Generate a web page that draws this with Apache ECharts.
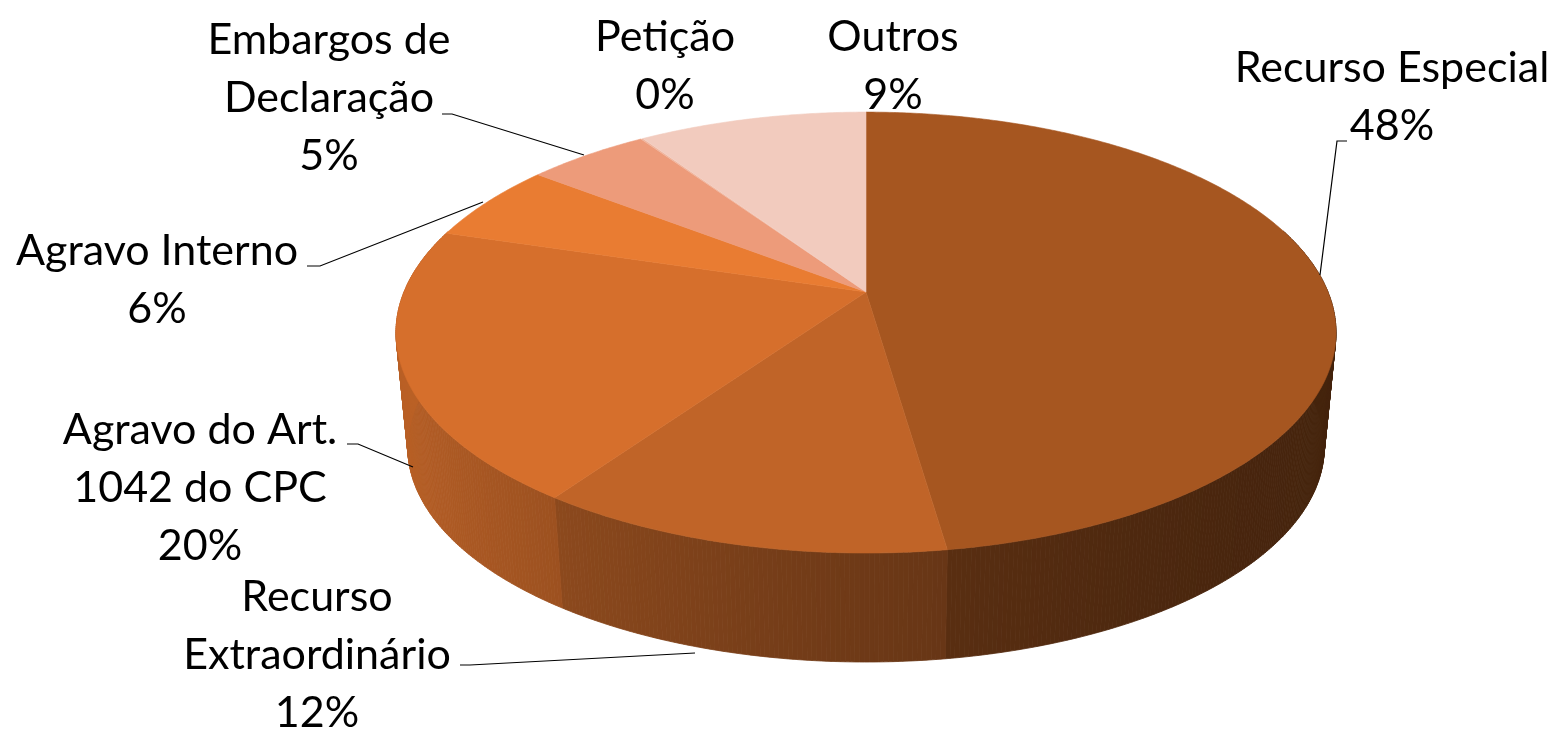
<!DOCTYPE html>
<html>
<head>
<meta charset="utf-8">
<script src="https://cdn.jsdelivr.net/npm/echarts@6/dist/echarts.min.js"></script>
<style>
  html, body { margin: 0; padding: 0; background: #ffffff; }
  #chart { width: 1559px; height: 729px; }
</style>
</head>
<body>
<div id="chart"></div>
<script>
// ---- data ----
const categories = ['Recurso Especial', 'Recurso Extraordinário', 'Agravo do Art. 1042 do CPC', 'Agravo Interno', 'Embargos de Declaração', 'Petição', 'Outros'];
const values = [47.7, 12.0, 20.0, 5.8, 5.0, 0.1, 9.4];
const colors = ['#A65620', '#C06428', '#D66F2C', '#E97C32', '#ED9B7A', '#F0B49C', '#F2CBBE'];

// ---- label layout (lines of text, block centre, leader line) ----
const labelLines = [
  ['Recurso Especial'],
  ['Recurso', 'Extraordinário'],
  ['Agravo do Art.', '1042 do CPC'],
  ['Agravo Interno'],
  ['Embargos de', 'Declaração'],
  ['Petição'],
  ['Outros']
];
const labelPos = [[1392, 97], [317, 655], [200, 488], [157, 280], [329, 98], [665, 66], [893, 66]];
const leaders = [
  [[1347, 141], [1337, 141], [1320, 275]],
  [[460, 665], [470, 665], [695, 653]],
  [[347, 444], [358, 444], [413, 467]],
  [[307, 266], [320, 266], [483, 202]],
  [[442, 114], [452, 114], [584, 155]],
  null,
  null
];

// ---- projection of the 3D disc ----
const CX = 866, CY = 292, A = 462, B = 213, K = 0.184, SB = 0.975, DY = 115.5;
function proj(theta, bottom) {
  const s = Math.sin(theta), c = Math.cos(theta);
  const d = 1 + K * c;
  let x = A * s / d, y = -B * c / d;
  if (bottom) { x *= SB; y = y * SB + DY; }
  return [CX + x, CY + y];
}
const total = values.reduce((a, b) => a + b, 0);
const starts = [];
let acc = 0;
values.forEach(v => { starts.push(acc); acc += v; });

function shade(hex, f) {
  const r = parseInt(hex.slice(1, 3), 16), g = parseInt(hex.slice(3, 5), 16), b = parseInt(hex.slice(5, 7), 16);
  return 'rgb(' + Math.round(r * f) + ',' + Math.round(g * f) + ',' + Math.round(b * f) + ')';
}
function wallFactor(theta) {
  let deg = theta * 180 / Math.PI;
  let t = (deg - 90) / 180;
  t = Math.max(0, Math.min(1, t));
  const s = Math.pow((1 - Math.cos(t * Math.PI)) / 2, 1.5);
  return 0.41 + 0.46 * s;
}

function sliceAngles(idx) {
  const a0 = starts[idx] / total * 2 * Math.PI;
  const a1 = (starts[idx] + values[idx]) / total * 2 * Math.PI;
  return [a0, a1];
}

function renderWall(params, api) {
  const idx = params.dataIndex;
  const [a0, a1] = sliceAngles(idx);
  const children = [];
  const step = Math.PI / 360;
  const n = Math.max(1, Math.ceil((a1 - a0) / step));
  for (let i = 0; i < n; i++) {
    const t0 = a0 + (a1 - a0) * i / n;
    const t1 = a0 + (a1 - a0) * (i + 1) / n;
    const tm = (t0 + t1) / 2;
    if (Math.cos(tm) > 0.3) continue; // far side, hidden below the top face
    const col = shade(colors[idx], wallFactor(tm));
    children.push({
      type: 'polygon',
      shape: { points: [proj(t0, false), proj(t1, false), proj(t1, true), proj(t0, true)] },
      style: { fill: col, stroke: col, lineWidth: 0.8 }
    });
  }
  return { type: 'group', children: children };
}

function renderTop(params, api) {
  const idx = params.dataIndex;
  const [a0, a1] = sliceAngles(idx);
  const pts = [[CX, CY]];
  const n = Math.max(2, Math.ceil((a1 - a0) / (Math.PI / 360)));
  for (let i = 0; i <= n; i++) pts.push(proj(a0 + (a1 - a0) * i / n, false));
  const tiny = values[idx] / total < 0.005;
  return {
    type: 'polygon',
    shape: { points: pts },
    style: { fill: colors[idx], stroke: tiny ? null : colors[idx], lineWidth: 0.6 }
  };
}

function renderLabel(params, api) {
  const idx = params.dataIndex;
  const pct = Math.round(values[idx] / total * 100) + '%';
  const txt = labelLines[idx].concat([pct]).join('\n');
  const children = [{
    type: 'text',
    style: {
      x: labelPos[idx][0], y: labelPos[idx][1],
      text: txt,
      fill: '#000000',
      font: '43px Lato',
      fontFamily: 'Lato', fontSize: 43,
      lineHeight: 58,
      align: 'center', verticalAlign: 'middle',
      textAlign: 'center', textVerticalAlign: 'middle'
    }
  }];
  if (leaders[idx]) {
    children.push({
      type: 'polyline',
      shape: { points: leaders[idx] },
      style: { stroke: '#000000', lineWidth: 1.2, fill: null }
    });
  }
  return { type: 'group', children: children };
}

const seriesData = categories.map((c, i) => ({ name: c, value: values[i] }));

const chart = echarts.init(document.getElementById('chart'), null, { renderer: 'canvas' });
chart.setOption({
  backgroundColor: '#ffffff',
  animation: false,
  series: [
    { type: 'custom', coordinateSystem: 'none', renderItem: renderWall, data: seriesData, z: 1, silent: true },
    { type: 'custom', coordinateSystem: 'none', renderItem: renderTop, data: seriesData, z: 2, silent: true },
    { type: 'custom', coordinateSystem: 'none', renderItem: renderLabel, data: seriesData, z: 3, silent: true }
  ]
});
</script>
</body>
</html>
